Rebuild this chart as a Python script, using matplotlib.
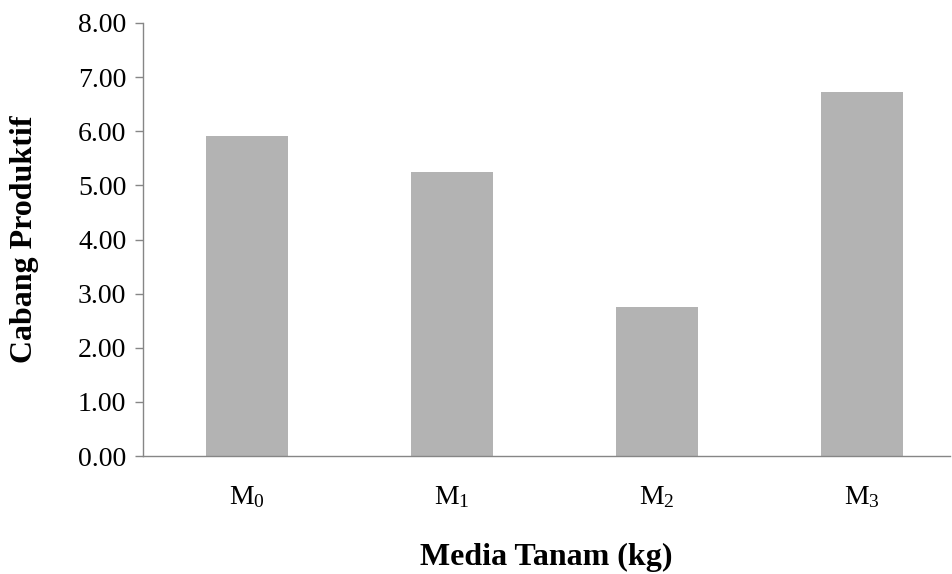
import matplotlib
matplotlib.use('Agg')
import matplotlib.pyplot as plt

# data
categories = [r'$\mathrm{M_0}$', r'$\mathrm{M_1}$', r'$\mathrm{M_2}$', r'$\mathrm{M_3}$']
cabang = [5.92, 5.25, 2.75, 6.72]
y_ticks = [0, 1, 2, 3, 4, 5, 6, 7, 8]

plt.rcParams['font.family'] = ['Liberation Serif', 'DejaVu Serif']
plt.rcParams['mathtext.fontset'] = 'custom'
plt.rcParams['mathtext.rm'] = 'Liberation Serif'

fig = plt.figure(figsize=(9.53, 5.74), dpi=100)
ax = fig.add_axes([143 / 953, 118 / 574, 807 / 953, 433 / 574])

x = range(len(cabang))
ax.bar(x, cabang, width=0.4, color='#b3b3b3')

ax.set_xlim(-0.507, 3.43)
ax.set_ylim(0, 8)
ax.set_yticks(y_ticks)
ax.set_yticklabels(['{:.2f}'.format(v) for v in y_ticks])
ax.set_xticks(list(x))
ax.set_xticklabels(categories)

for side in ['top', 'right']:
    ax.spines[side].set_visible(False)
for side in ['left', 'bottom']:
    ax.spines[side].set_color('#868686')
    ax.spines[side].set_linewidth(1.0)

ax.tick_params(axis='y', direction='out', length=6, width=1.0, color='#868686',
               labelsize=20, pad=6)
ax.tick_params(axis='x', length=0, labelsize=20, pad=20)

ax.set_xlabel('Media Tanam (kg)', fontsize=23, fontweight='bold', labelpad=24)
ax.set_ylabel('Cabang Produktif', fontsize=23, fontweight='bold', labelpad=28)

fig.savefig('out.png', dpi=100)
